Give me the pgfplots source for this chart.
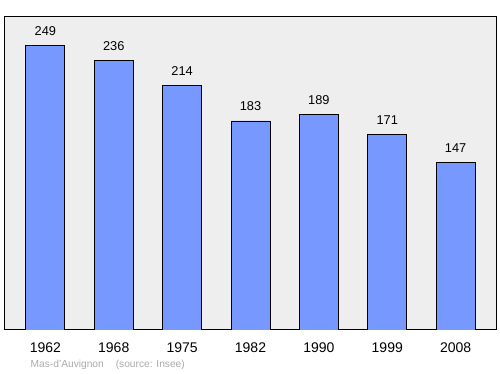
\documentclass[border=0pt]{standalone}
\usepackage{pgfplots}
\pgfplotsset{compat=1.18}
\usepackage{fontspec}
\setmainfont{Liberation Sans}
\definecolor{barblue}{HTML}{7799FF}
\definecolor{bg}{HTML}{EEEEEE}
\definecolor{foot}{HTML}{AAAAAA}
\begin{document}
\begin{tikzpicture}[x=1pt,y=1pt]
\path[use as bounding box] (0,0) rectangle (500,374);
\begin{axis}[
  at={(5pt,44pt)}, anchor=south west, scale only axis,
  width=491pt, height=313pt,
  xmin=-0.59, xmax=6.59, ymin=0, ymax=274,
  axis background/.style={fill=bg},
  axis line style={black, line width=1pt},
  ybar, bar width=39pt,
  xtick=data,
  xticklabels={1962,1968,1975,1982,1990,1999,2008},
  ytick=\empty,
  major tick length=0pt,
  xticklabel style={font=\fontsize{14}{16}\selectfont, yshift=-9pt},
  /pgf/number format/assume math mode=true,
  nodes near coords,
  every node near coord/.append style={font=\fontsize{12.8}{14}\selectfont, black, inner sep=0pt, yshift=9.5pt},
]
\addplot[draw=black, fill=barblue, line width=0.8pt] coordinates {(0,249) (1,236) (2,214) (3,183) (4,189) (5,171) (6,147)};
\end{axis}
\node[anchor=base west, text=foot, inner sep=0pt, font=\fontsize{10.2}{12}\selectfont] at (30.5,6) {Mas-d'Auvignon\hspace{12pt}(source: Insee)};
\end{tikzpicture}
\end{document}
